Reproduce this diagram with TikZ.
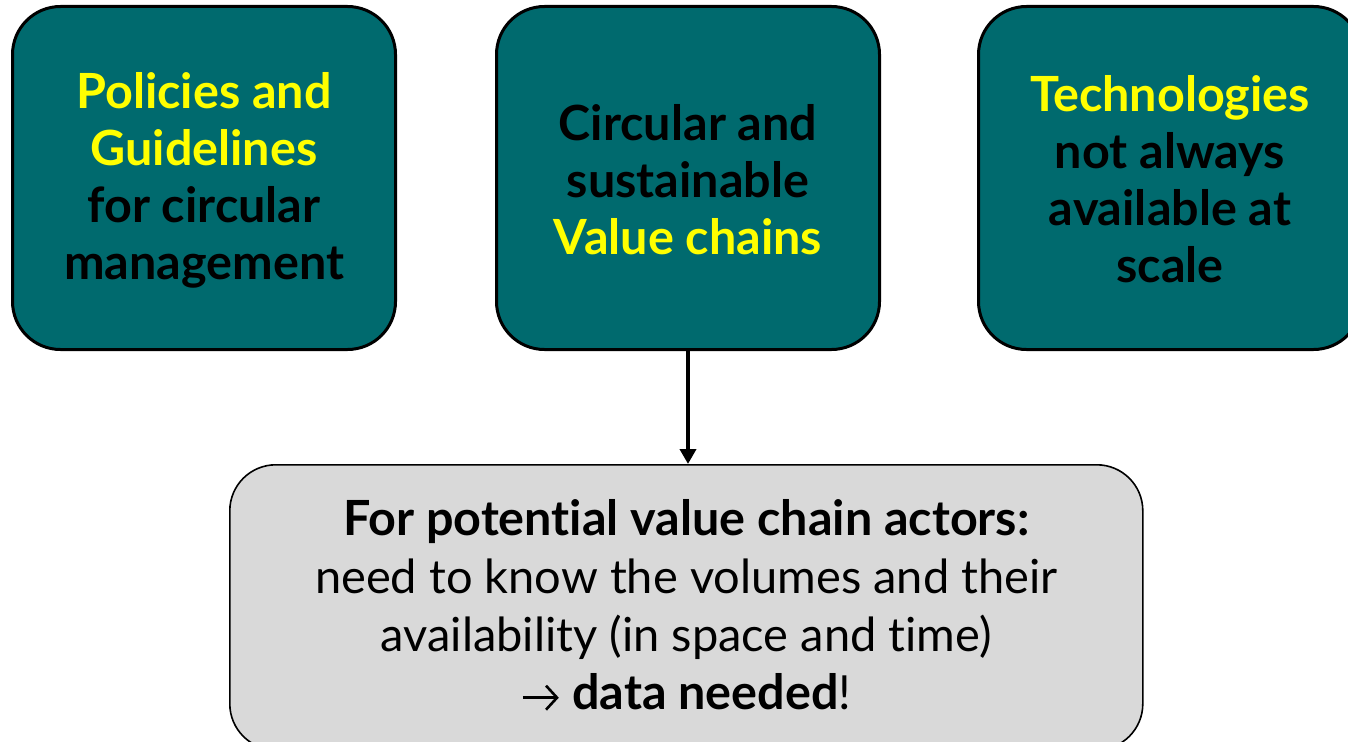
\documentclass[tikz,border=0pt]{standalone}
\usepackage{fontspec}
\setmainfont{Lato}[Ligatures=NoCommon]
\usetikzlibrary{arrows.meta}
\definecolor{teal1}{HTML}{006A6E}
\definecolor{yel}{HTML}{FFFF00}
\definecolor{grayfill}{HTML}{D9D9D9}
\newcommand{\bigbold}{\fontsize{48.5}{57}\selectfont\bfseries}
\newcommand{\textarrow}{\tikz[baseline=0pt]\draw[line width=2.6pt, -{Straight Barb[length=11pt,width=24pt,line width=2.6pt]}] (0pt,12pt) -- (36pt,12pt);}
\tikzset{
  tealbox/.style={draw=black, line width=3pt, fill=teal1, rounded corners=48pt,
    minimum width=383pt, minimum height=343pt, inner sep=0pt, anchor=north west},
  graybox/.style={draw=black, line width=1.6pt, fill=grayfill, rounded corners=46pt,
    minimum width=913pt, minimum height=285pt, inner sep=0pt, anchor=north west},
  tealtext/.style={align=center, font=\bigbold, inner sep=0pt},
  graytext/.style={align=center, font=\fontsize{47}{58}\selectfont, inner sep=0pt},
  conn/.style={line width=4pt, -{Triangle[width=16pt,length=15pt]}}
}
\begin{document}
\begin{tikzpicture}[x=1pt,y=-1pt]
\useasboundingbox (0,0) rectangle (1348,741);
\clip (0,0) rectangle (1348,741);
\fill[white] (0,0) rectangle (1348,741);
\node[tealbox] (b1) at (11,5) {};
\node[tealtext] (t1) at ([yshift=-2pt]b1.center) {\textcolor{yel}{Policies and}\\\textcolor{yel}{Guidelines}\\for circular\\management};
\node[tealbox] (b2) at (495,5) {};
\node[tealtext] (t2) at ([yshift=-2pt]b2.center) {Circular and\\sustainable\\\textcolor{yel}{Value chains}};
\node[tealbox] (b3) at (977,5) {};
\node[tealtext] (t3) at ([yshift=-1pt]b3.center) {\textcolor{yel}{Technologies}\\not always\\available at\\scale};
\node[graybox] (b4) at (229,464) {};
\node[graytext] (t4) at ([yshift=2pt]b4.center) {{\fontsize{48.5}{58}\selectfont\bfseries For potential value chain actors:}\\need to know the volumes and their\\availability (in space and time)\\\textarrow\ {\fontsize{48.5}{58}\selectfont\bfseries data needed}!};
\draw[conn] (b2.south) -- (b2.south |- b4.north);
\end{tikzpicture}
\end{document}
